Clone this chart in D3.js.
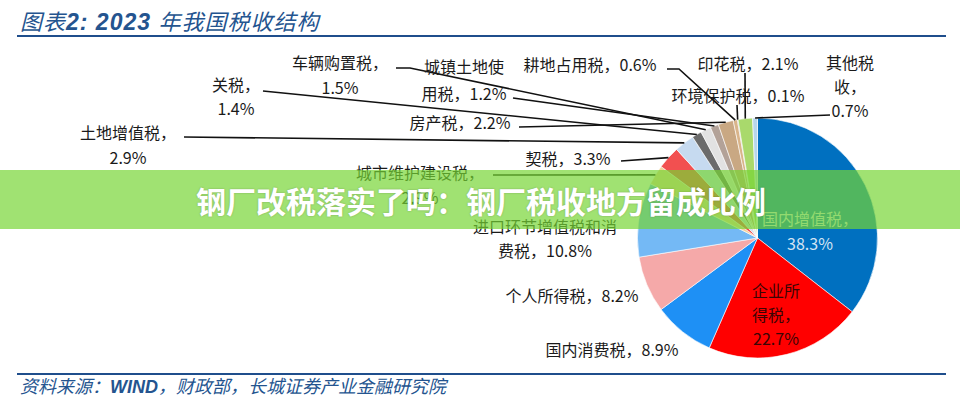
<!DOCTYPE html>
<html><head><meta charset="utf-8">
<script src="https://cdn.jsdelivr.net/npm/d3@7"></script>
<style>
html,body{margin:0;padding:0;background:#fff;}
svg{display:block;}
</style></head>
<body>
<svg id="chart" width="960" height="400"></svg>
<script>
// ---- data ----
const categories = ["国内增值税","企业所得税","国内消费税","个人所得税","进口环节增值税和消费税","城市维护建设税","契税","土地增值税","关税","车辆购置税","城镇土地使用税","房产税","耕地占用税","环境保护税","印花税","其他税收"];
const values = [38.3, 22.7, 8.9, 8.2, 10.8, 2.9, 3.3, 2.9, 1.4, 1.5, 1.2, 2.2, 0.6, 0.1, 2.1, 0.7];
const colors = ["#0070c0","#ff0000","#1e90f5","#f5a9a9","#74b9f5","#f3d29a","#f25050","#c6daf0","#6b6b6b","#e2e2e2","#b3a298","#c9a883","#d9b48a","#a58f80","#a9d96c","#b8d6ec"];
const titleText = ["图表","2:"," 2023 ","年我国税收结构"];
const sourceText = ["资料来源：","WIND","，财政部，长城证券产业金融研究院"];
const bannerText = "钢厂改税落实了吗：钢厂税收地方留成比例";

// ---- layout (positions only) ----
const cx = 757.5, cy = 238, R = 120;
const labelLayout = {
  "国内增值税":   {x:810, y:218, dy:25, breaks:[6], fill:"#d4e4f4", inside:true},
  "企业所得税":   {x:776, y:290, dy:24, breaks:[3,6], fill:"#3a0505", inside:true},
  "国内消费税":   {x:612, y:349, breaks:[]},
  "个人所得税":   {x:572, y:295, breaks:[]},
  "进口环节增值税和消费税": {x:545, y:226, dy:24, breaks:[9]},
  "城市维护建设税": {x:420, y:172, dy:25, breaks:[8], line:[[493,175]]},
  "契税":         {x:568, y:158, breaks:[], line:[[621,161]]},
  "土地增值税":   {x:128, y:132, dy:25, breaks:[6], line:[[184,137]]},
  "关税":         {x:236, y:84, dy:24, breaks:[3], line:[[263,91]]},
  "车辆购置税":   {x:340, y:62, dy:25, breaks:[6], line:[[396,68],[410,68]]},
  "城镇土地使用税": {x:464, y:66, dy:27, breaks:[5], line:[[513,98]]},
  "房产税":       {x:460, y:122, breaks:[], line:[[519,127]]},
  "耕地占用税":   {x:590, y:64, breaks:[], line:[[667,69],[679,69]]},
  "环境保护税":   {x:738, y:95, breaks:[], line:[[737,105]]},
  "印花税":       {x:748, y:63, breaks:[], line:[[745,73]]},
  "其他税收":     {x:850, y:62, dy:24, breaks:[3,5], line:[[830,115]]}
};

const svg = d3.select("#chart");
const cjk = "'Noto Sans CJK SC','Noto Sans',sans-serif";
const blue = "#24548f";

// title
const title = svg.append("text").attr("x",20).attr("y",30)
  .attr("font-family", cjk).attr("font-size",22).attr("fill",blue)
  .attr("font-style","italic").attr("letter-spacing",1);
titleText.forEach((t,i)=>{
  title.append("tspan").text(t)
    .attr("font-weight", (i===1||i===2)?700:400)
    .attr("font-family", (i===1||i===2)?"'Liberation Sans',Arial,sans-serif":cjk)
    .attr("font-size", (i===1||i===2)?23:22);
});
svg.append("line").attr("x1",17).attr("x2",946).attr("y1",36).attr("y2",36)
  .attr("stroke","#1f4e8c").attr("stroke-width",2.2);

// pie
const pie = d3.pie().sort(null).value(d=>d.v).startAngle(0).endAngle(2*Math.PI);
const data = categories.map((c,i)=>({name:c, v:values[i], color:colors[i]}));
const arcs = pie(data);
const arc = d3.arc().innerRadius(0).outerRadius(R);
const edge = d3.arc().innerRadius(R).outerRadius(R);
const g = svg.append("g").attr("transform",`translate(${cx},${cy})`);
g.selectAll("path").data(arcs).join("path")
  .attr("d",arc).attr("fill",d=>d.data.color)
  .attr("stroke","#ffffff").attr("stroke-width",0.6);

// leader lines
const fmt = d3.format(".1f");
arcs.forEach(a=>{
  const L = labelLayout[a.data.name];
  if(!L || !L.line) return;
  const end = edge.centroid(a);
  const pts = L.line.concat([[end[0]+cx, end[1]+cy]]);
  svg.append("path").attr("d", d3.line()(pts))
    .attr("fill","none").attr("stroke","#111").attr("stroke-width",1.6);
});

// labels
arcs.forEach(a=>{
  const L = labelLayout[a.data.name];
  const full = a.data.name + "，" + fmt(a.data.v) + "%";
  const cuts = [0].concat(L.breaks, [full.length]);
  const lines = [];
  for(let i=0;i<cuts.length-1;i++) lines.push(full.slice(cuts[i],cuts[i+1]));
  const t = svg.append("text").attr("font-family",cjk).attr("font-size",16)
    .attr("fill", L.fill || "#1a1a1a").attr("text-anchor","middle")
    .attr("dominant-baseline","central");
  lines.forEach((ln,i)=>{
    t.append("tspan").attr("x",L.x).attr("y",L.y + i*(L.dy||24)).text(ln);
  });
});

// footer
svg.append("line").attr("x1",17).attr("x2",946).attr("y1",374).attr("y2",374)
  .attr("stroke","#1f4e8c").attr("stroke-width",2.2);
const src = svg.append("text").attr("x",20).attr("y",393)
  .attr("font-size",18).attr("fill",blue).attr("font-style","italic");
sourceText.forEach((t,i)=>{
  src.append("tspan").text(t)
    .attr("font-weight", i===1?700:400)
    .attr("font-family", i===1?"'Liberation Sans',Arial,sans-serif":cjk);
});

// banner overlay
svg.append("rect").attr("x",0).attr("y",170).attr("width",960).attr("height",59)
  .attr("fill","rgb(117,213,51)").attr("fill-opacity",0.69);
svg.append("text").attr("x",481).attr("y",200).attr("text-anchor","middle")
  .attr("dominant-baseline","central").attr("font-family",cjk)
  .attr("font-size",30).attr("font-weight",700).attr("fill","#fff")
  .style("text-shadow","0 0 2px rgba(0,0,0,0.25)")
  .text(bannerText);
</script>
</body></html>
